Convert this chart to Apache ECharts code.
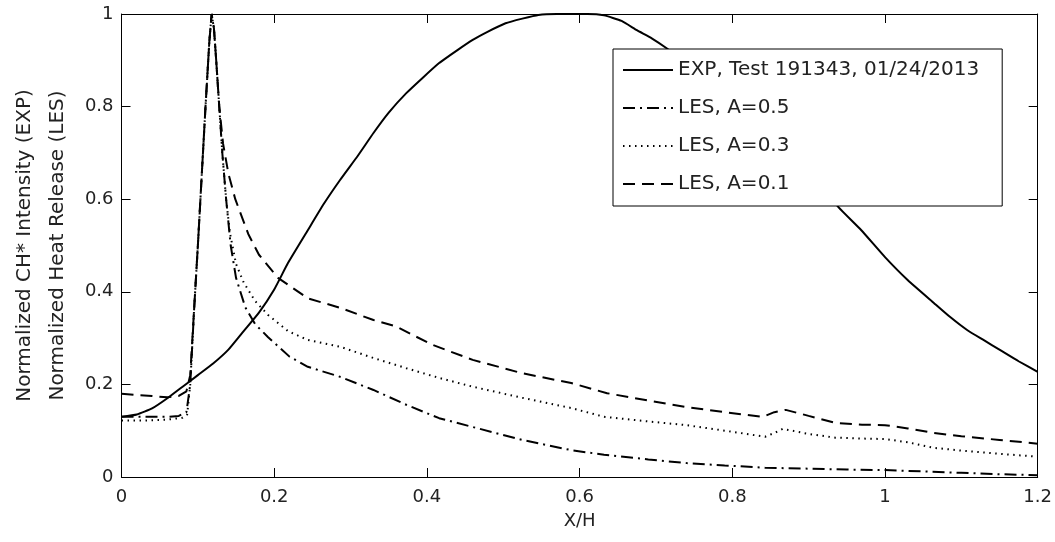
<!DOCTYPE html>
<html>
<head>
<meta charset="utf-8">
<script src="https://cdn.jsdelivr.net/npm/echarts@6.0.0/dist/echarts.min.js"></script>
<style>
  html, body { margin: 0; padding: 0; background: #fff; }
  #chart { width: 1055px; height: 542px; }
</style>
</head>
<body>
<div id="chart"></div>
<script>
// ---- Data ----
const xTicks = [0, 0.2, 0.4, 0.6, 0.8, 1, 1.2];
const yTicks = [0, 0.2, 0.4, 0.6, 0.8, 1];

const seriesNames = ['EXP, Test 191343, 01/24/2013', 'LES, A=0.5', 'LES, A=0.3', 'LES, A=0.1'];

// EXP (solid)
const expX = [0, 0.02, 0.04, 0.06, 0.08, 0.1, 0.12, 0.14, 0.16, 0.18, 0.2, 0.218, 0.244, 0.265, 0.286, 0.31, 0.33, 0.35, 0.373, 0.395, 0.416, 0.44, 0.46, 0.48, 0.503, 0.525, 0.546, 0.57, 0.589, 0.61, 0.632, 0.655, 0.675, 0.695, 0.714, 0.76, 0.8, 0.84, 0.88, 0.92, 0.939, 0.969, 1.0, 1.03, 1.064, 1.085, 1.108, 1.13, 1.151, 1.175, 1.2];
const expY = [0.13, 0.135, 0.148, 0.17, 0.195, 0.22, 0.245, 0.275, 0.315, 0.355, 0.405, 0.462, 0.533, 0.59, 0.641, 0.695, 0.743, 0.787, 0.829, 0.863, 0.894, 0.922, 0.944, 0.962, 0.98, 0.99, 0.998, 1.0, 1.0, 1.0, 0.997, 0.985, 0.965, 0.947, 0.926, 0.87, 0.81, 0.75, 0.69, 0.625, 0.583, 0.533, 0.475, 0.425, 0.376, 0.346, 0.317, 0.295, 0.274, 0.25, 0.227];

// LES, A=0.5 (dash-dot)
const les05X = [0, 0.03, 0.06, 0.075, 0.085, 0.09, 0.095, 0.1, 0.105, 0.11, 0.115, 0.118, 0.121, 0.124, 0.128, 0.132, 0.137, 0.143, 0.15, 0.162, 0.175, 0.192, 0.22, 0.244, 0.287, 0.33, 0.373, 0.416, 0.46, 0.525, 0.589, 0.632, 0.69, 0.74, 0.79, 0.843, 0.9, 0.95, 1.0, 1.05, 1.1, 1.15, 1.2];
const les05Y = [0.13, 0.13, 0.13, 0.132, 0.14, 0.2, 0.36, 0.5, 0.65, 0.8, 0.94, 1.0, 0.97, 0.9, 0.8, 0.7, 0.6, 0.5, 0.43, 0.367, 0.33, 0.302, 0.26, 0.238, 0.216, 0.188, 0.156, 0.127, 0.108, 0.08, 0.058, 0.048, 0.038, 0.03, 0.025, 0.02, 0.018, 0.016, 0.015, 0.012, 0.009, 0.006, 0.004];

// LES, A=0.3 (dotted)
const les03X = [0, 0.03, 0.06, 0.08, 0.086, 0.09, 0.095, 0.1, 0.105, 0.11, 0.115, 0.118, 0.121, 0.124, 0.128, 0.132, 0.137, 0.142, 0.15, 0.16, 0.175, 0.192, 0.218, 0.244, 0.287, 0.33, 0.373, 0.416, 0.46, 0.525, 0.589, 0.632, 0.69, 0.74, 0.79, 0.843, 0.855, 0.866, 0.9, 0.935, 0.97, 1.0, 1.03, 1.064, 1.1, 1.15, 1.2];
const les03Y = [0.122, 0.122, 0.124, 0.128, 0.135, 0.2, 0.36, 0.5, 0.65, 0.8, 0.94, 1.0, 0.97, 0.9, 0.8, 0.7, 0.6, 0.527, 0.46, 0.42, 0.38, 0.35, 0.315, 0.296, 0.281, 0.257, 0.235, 0.214, 0.195, 0.171, 0.149, 0.13, 0.12, 0.112, 0.1, 0.087, 0.095, 0.104, 0.093, 0.085, 0.083, 0.082, 0.075, 0.063, 0.057, 0.05, 0.044];

// LES, A=0.1 (dashed)
const les01X = [0, 0.02, 0.04, 0.06, 0.075, 0.085, 0.09, 0.095, 0.1, 0.105, 0.11, 0.115, 0.118, 0.121, 0.124, 0.128, 0.133, 0.14, 0.149, 0.166, 0.18, 0.205, 0.244, 0.287, 0.33, 0.36, 0.386, 0.408, 0.46, 0.525, 0.589, 0.636, 0.69, 0.74, 0.79, 0.84, 0.855, 0.87, 0.9, 0.935, 0.97, 1.0, 1.03, 1.064, 1.1, 1.15, 1.2];
const les01Y = [0.18, 0.177, 0.175, 0.172, 0.175, 0.185, 0.22, 0.36, 0.5, 0.65, 0.8, 0.94, 1.0, 0.97, 0.9, 0.8, 0.72, 0.655, 0.6, 0.525, 0.48, 0.43, 0.386, 0.365, 0.339, 0.325, 0.303, 0.285, 0.253, 0.224, 0.203, 0.181, 0.165, 0.151, 0.14, 0.13, 0.14, 0.145, 0.132, 0.117, 0.113, 0.112, 0.105, 0.095, 0.088, 0.08, 0.072];

const xName = 'X/H';
const yName = 'Normalized CH* Intensity (EXP)\nNormalized Heat Release (LES)';

// ---- Build ----
const pairs = (xs, ys) => xs.map((x, i) => [x, ys[i]]);
const FONT = 'DejaVu Sans';
const TXT = '#222';

const chart = echarts.init(document.getElementById('chart'), null, { renderer: 'canvas' });

const axisCommon = {
  type: 'value',
  axisLine: { show: true, onZero: false, lineStyle: { color: '#000', width: 1 } },
  axisTick: { show: true, inside: true, length: 9, lineStyle: { color: '#000', width: 1 } },
  splitLine: { show: false },
  minorTick: { show: false }
};

chart.setOption({
  animation: false,
  backgroundColor: '#fff',
  grid: { left: 112, right: 17, top: 14, bottom: 65, containLabel: false },
  xAxis: [
    Object.assign({}, axisCommon, {
      position: 'bottom', min: xTicks[0], max: xTicks[xTicks.length - 1], interval: 0.2,
      name: xName, nameLocation: 'middle', nameGap: 35,
      nameTextStyle: { fontFamily: FONT, fontSize: 18, color: TXT },
      axisLabel: { margin: 11, fontFamily: FONT, fontSize: 18, color: TXT,
        formatter: v => String(+v.toFixed(2)) }
    }),
    Object.assign({}, axisCommon, {
      position: 'top', min: xTicks[0], max: xTicks[xTicks.length - 1], interval: 0.2,
      axisLabel: { show: false }
    })
  ],
  yAxis: [
    Object.assign({}, axisCommon, {
      position: 'left', min: yTicks[0], max: yTicks[yTicks.length - 1], interval: 0.2,
      name: yName, nameLocation: 'middle', nameGap: 46, nameRotate: 90,
      nameTextStyle: { fontFamily: FONT, fontSize: 20, color: TXT, lineHeight: 33, align: 'center' },
      axisLabel: { margin: 8, fontFamily: FONT, fontSize: 18, color: TXT,
        formatter: v => String(+v.toFixed(2)) }
    }),
    Object.assign({}, axisCommon, {
      position: 'right', min: yTicks[0], max: yTicks[yTicks.length - 1], interval: 0.2,
      axisLabel: { show: false }
    })
  ],
  legend: {
    orient: 'vertical',
    left: 613, top: 49,
    padding: [11, 23, 12, 9],
    itemWidth: 50, itemHeight: 14, itemGap: 18,
    backgroundColor: '#fff',
    borderColor: '#000', borderWidth: 1, borderRadius: 0,
    selectedMode: false,
    data: seriesNames,
    itemStyle: { opacity: 0 },
    textStyle: { fontFamily: FONT, fontSize: 20, color: TXT, lineHeight: 20 }
  },
  series: [
    { name: seriesNames[0], type: 'line', data: pairs(expX, expY), showSymbol: false, symbol: 'none',
      smooth: 0.15,
      lineStyle: { color: '#000', width: 2, type: 'solid' }, itemStyle: { color: '#000' } },
    { name: seriesNames[1], type: 'line', data: pairs(les05X, les05Y), showSymbol: false, symbol: 'none',
      lineStyle: { color: '#000', width: 2, type: [12, 5, 2, 5] }, itemStyle: { color: '#000' } },
    { name: seriesNames[2], type: 'line', data: pairs(les03X, les03Y), showSymbol: false, symbol: 'none',
      lineStyle: { color: '#000', width: 2, type: [1.5, 4.5] }, itemStyle: { color: '#000' } },
    { name: seriesNames[3], type: 'line', data: pairs(les01X, les01Y), showSymbol: false, symbol: 'none',
      lineStyle: { color: '#000', width: 2, type: [12, 7] }, itemStyle: { color: '#000' } }
  ]
});
</script>
</body>
</html>
